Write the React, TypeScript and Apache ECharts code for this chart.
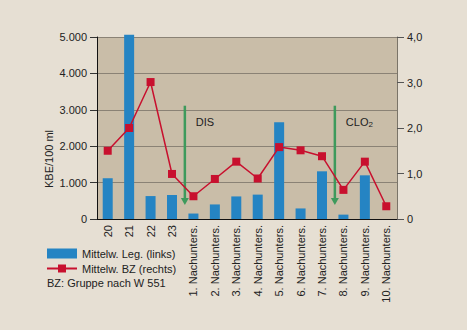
import React, { useEffect, useRef } from "react";
import * as echarts from "echarts";

const categories = ["20", "21", "22", "23", "1. Nachunters.", "2. Nachunters.", "3. Nachunters.", "4. Nachunters.", "5. Nachunters.", "6. Nachunters.", "7. Nachunters.", "8. Nachunters.", "9. Nachunters.", "10. Nachunters."];
const legValues = [1120, 5060, 630, 660, 150, 400, 620, 670, 2660, 290, 1310, 120, 1200, 0];
const bzValues = [1.5, 2.0, 3.01, 0.99, 0.5, 0.88, 1.26, 0.89, 1.58, 1.51, 1.38, 0.64, 1.26, 0.28];
const leftTicks = { min: 0, max: 5000, interval: 1000 };
const rightTicks = { min: 0, max: 4, interval: 1 };
// annotations: [from category index, to category index, fraction, top (right axis), bottom (right axis), label]
const arrows: [number, number, number, number, number, string][] = [
  [3, 4, 0.6, 2.49, 0.31, "DIS"],
  [10, 11, 0.6, 2.49, 0.31, "CLO2"],
];

const FONT = "Liberation Sans, Arial, sans-serif";

export default function App() {
  const ref = useRef<HTMLDivElement>(null);
  useEffect(() => {
    const chart = echarts.init(ref.current!, null, { renderer: "svg" });
    chart.setOption({
      animation: false,
      backgroundColor: "#e6dfd3",
      textStyle: { fontFamily: FONT },
      grid: { left: 97, right: 70, top: 37, bottom: 111, show: true, backgroundColor: "#c9bda8", borderWidth: 0 },
      legend: {
        orient: "vertical",
        left: 46,
        top: 248,
        padding: 0,
        itemWidth: 30,
        itemHeight: 10,
        itemGap: 4,
        textStyle: { fontFamily: FONT, fontSize: 11, color: "#222" },
        data: [
          { name: "Mittelw. Leg. (links)", icon: "rect" },
          { name: "Mittelw. BZ (rechts)" },
        ],
      },
      xAxis: {
        type: "category",
        data: categories,
        axisLine: { lineStyle: { color: "#111", width: 1 } },
        axisTick: { show: false },
        axisLabel: { rotate: 90, fontSize: 11, color: "#222", fontFamily: FONT, interval: 0, margin: 6 },
      },
      yAxis: [
        {
          type: "value",
          ...leftTicks,
          position: "left",
          axisLine: { show: true, lineStyle: { color: "#111" } },
          axisTick: { show: true, length: 7, lineStyle: { color: "#333" } },
          axisLabel: {
            fontSize: 11,
            color: "#222",
            margin: 10,
            formatter: (v: number) => (v === 0 ? "0" : v.toLocaleString("de-DE")),
          },
          splitLine: { show: true, lineStyle: { color: "#8a8275", width: 1 } },
        },
        {
          type: "value",
          ...rightTicks,
          position: "right",
          axisLine: { show: true, lineStyle: { color: "#7a7468" } },
          axisTick: { show: true, length: 7, lineStyle: { color: "#555" } },
          axisLabel: {
            fontSize: 11,
            color: "#222",
            margin: 10,
            formatter: (v: number) => (v === 0 ? "0" : v.toFixed(1).replace(".", ",")),
          },
          splitLine: { show: false },
        },
      ],
      series: [
        {
          name: "Mittelw. Leg. (links)",
          type: "bar",
          data: legValues,
          barWidth: 10,
          clip: false,
          itemStyle: { color: "#2584c3" },
          yAxisIndex: 0,
        },
        {
          name: "Mittelw. BZ (rechts)",
          type: "line",
          data: bzValues,
          yAxisIndex: 1,
          symbol: "rect",
          symbolSize: 8,
          lineStyle: { color: "#c8102e", width: 1.5 },
          itemStyle: { color: "#c8102e" },
        },
        {
          type: "custom",
          yAxisIndex: 1,
          silent: true,
          data: arrows.map((a) => a),
          renderItem: (params: any, api: any) => {
            const a = arrows[params.dataIndex];
            const p0 = api.coord([a[0], a[3]]);
            const p1 = api.coord([a[1], a[4]]);
            const x = p0[0] + a[2] * (p1[0] - p0[0]);
            const yTop = p0[1];
            const yBot = p1[1];
            const green = "#3d9a5c";
            const labelY = api.coord([a[0], 2.14])[1];
            const isClo = a[5] === "CLO2";
            return {
              type: "group",
              children: [
                { type: "line", shape: { x1: x, y1: yTop, x2: x, y2: yBot - 6 }, style: { stroke: green, lineWidth: 2.5 } },
                { type: "polygon", shape: { points: [[x - 4, yBot - 7], [x + 4, yBot - 7], [x, yBot]] }, style: { fill: green } },
                {
                  type: "text",
                  x: x + 11,
                  y: labelY,
                  style: {
                    text: isClo ? "{n|CLO}{s|2}" : "DIS",
                    fontFamily: FONT,
                    fontSize: 11,
                    fill: "#222",
                    verticalAlign: "middle",
                    rich: {
                      n: { fontFamily: FONT, fontSize: 11, fill: "#222" },
                      s: { fontFamily: FONT, fontSize: 8, fill: "#222", padding: [6, 0, 0, 0] },
                    },
                  },
                },
              ],
            };
          },
        },
      ],
      graphic: [
        {
          type: "text",
          x: 49,
          y: 159,
          rotation: Math.PI / 2,
          style: { text: "KBE/100 ml", fontFamily: FONT, fontSize: 11, fill: "#222", align: "center", verticalAlign: "middle" },
        },
        {
          type: "text",
          left: 47,
          top: 277,
          style: { text: "BZ: Gruppe nach W 551", fontFamily: FONT, fontSize: 11, fill: "#222" },
        },
      ],
    });
    return () => chart.dispose();
  }, []);
  return <div ref={ref} style={{ position: "fixed", left: 0, top: 0, width: 467, height: 330 }} />;
}
